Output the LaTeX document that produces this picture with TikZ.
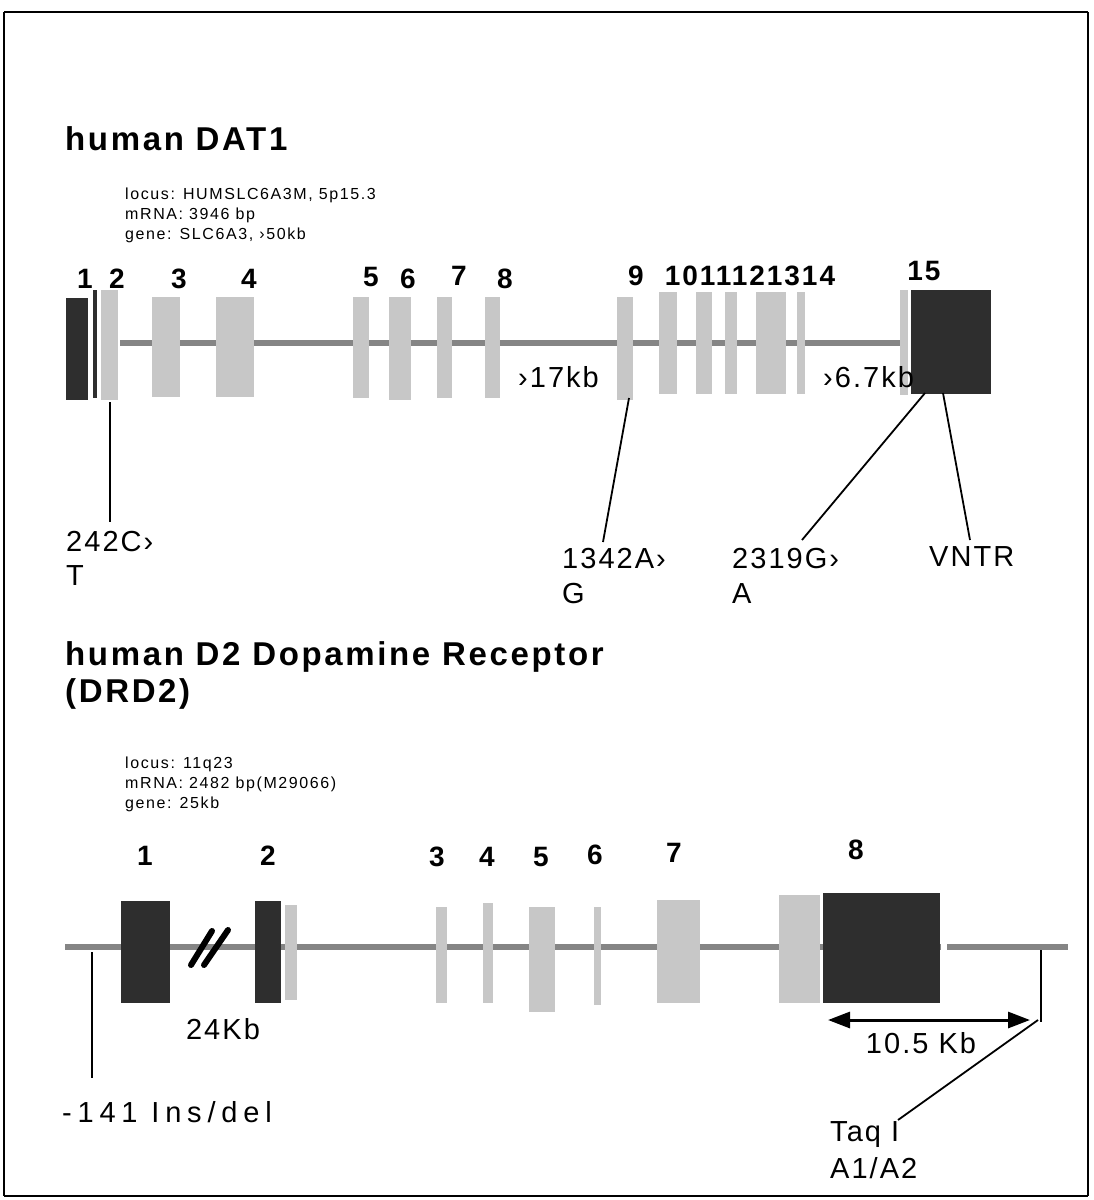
\documentclass[tikz,border=0pt]{standalone}
\usepackage{fontspec}
\setmainfont{Liberation Sans}[LetterSpace=7]
\usetikzlibrary{arrows.meta}
\begin{document}
\begin{tikzpicture}[x=1pt,y=-1pt,
  dark/.style={fill=black!82},
  light/.style={fill=black!22},
  intron/.style={draw=black!48, line width=6pt},
  lab/.style={inner sep=0pt, anchor=west, font=\fontsize{29}{33}\selectfont},
  num/.style={inner sep=0pt, font=\fontsize{28}{32}\selectfont\bfseries},
  ttl/.style={inner sep=0pt, anchor=west, font=\fontsize{33}{38}\selectfont\bfseries\addfontfeature{LetterSpace=8}},
  info/.style={inner sep=0pt, anchor=west, font=\fontsize{16}{19}\selectfont\addfontfeature{LetterSpace=10}},
  pin/.style={line width=1.8pt},
  frame/.style={line width=2.5pt}]
\useasboundingbox (0,0) rectangle (1093,1200);
\fill[white] (0,0) rectangle (1093,1200);
% frame
\draw[frame] (4,12) -- (1088,12);
\draw[line width=1.5pt] (4,12) -- (4,1196);
\draw[line width=2pt] (1088,12) -- (1088,1196);
\draw[frame] (4,1196) -- (1088,1196);

% ---------------- human DAT1 ----------------
\node[ttl] (t1) at (65,139) {human DAT1};
\node[info] (i1a) at (125,195) {locus: HUMSLC6A3M, 5p15.3};
\node[info] (i1b) at (125,215) {mRNA: 3946 bp};
\node[info] (i1c) at (125,235) {gene: SLC6A3, ›50kb};

\draw[intron] (120,343) -- (900,343);
\fill[dark] (66,298) rectangle (88,400);
\fill[dark] (93,290) rectangle (97,398);
\fill[light] (101,290) rectangle (118,400);
\fill[light] (152,297) rectangle (180,397);
\fill[light] (216,297) rectangle (254,397);
\fill[light] (353,297) rectangle (369,398);
\fill[light] (389,297) rectangle (411,400);
\fill[light] (437,297) rectangle (452,398);
\fill[light] (485,297) rectangle (500,398);
\fill[light] (617,297) rectangle (633,400);
\fill[light] (659,292) rectangle (677,394);
\fill[light] (696,292) rectangle (712,394);
\fill[light] (725,292) rectangle (737,394);
\fill[light] (756,292) rectangle (786,394);
\fill[light] (797,292) rectangle (805,394);
\fill[light] (900,290) rectangle (908,395);
\fill[dark] (911,290) rectangle (991,394);

\node[num] (n1) at (85,279) {1};
\node[num] (n2) at (117,279) {2};
\node[num] (n3) at (179,279) {3};
\node[num] (n4) at (249,279) {4};
\node[num] (n5) at (371,277) {5};
\node[num] (n6) at (408,279) {6};
\node[num] (n7) at (459,276) {7};
\node[num] (n8) at (505,279) {8};
\node[num] (n9) at (636,276) {9};
\node[num] (n10) at (750,276) {1011121314};
\node[num] (n15) at (924,271) {15};

\node[lab] (k17) at (518,377) {›17kb};
\node[lab] (k67) at (823,377) {›6.7kb};

\coordinate (p242) at (110,402);
\coordinate (q242) at (110,522);
\node[lab] (l242) at (66,542) {242C›};
\node[lab] (l242b) at (66,576) {T};
\draw[pin] (p242) -- (q242);

\coordinate (p1342) at (629,398);
\coordinate (q1342) at (603,542);
\node[lab] (l1342) at (562,559) {1342A›};
\node[lab] (l1342b) at (562,594) {G};
\draw[pin] (p1342) -- (q1342);

\coordinate (p2319) at (925,393);
\coordinate (q2319) at (802,540);
\node[lab] (l2319) at (732,559) {2319G›};
\node[lab] (l2319b) at (732,594) {A};
\draw[pin] (p2319) -- (q2319);

\coordinate (pv) at (943,393);
\coordinate (qv) at (970,540);
\node[lab] (lv) at (929,557) {VNTR};
\draw[pin] (pv) -- (qv);

% ---------------- DRD2 ----------------
\node[ttl] (t2) at (65,657) {human D2 Dopamine Receptor};
\node[ttl] (t2b) at (65,694) {(DRD2)};
\node[info] (i2a) at (125,764) {locus: 11q23};
\node[info] (i2b) at (125,784) {mRNA: 2482 bp(M29066)};
\node[info] (i2c) at (125,804) {gene: 25kb};

\draw[intron] (65,947) -- (1068,947);
\fill[white] (941,935) rectangle (947,960);
\fill[dark] (121,901) rectangle (170,1003);
\fill[dark] (255,901) rectangle (281,1003);
\fill[light] (285,905) rectangle (297,1000);
\fill[light] (436,907) rectangle (447,1003);
\fill[light] (483,903) rectangle (493,1003);
\fill[light] (529,907) rectangle (555,1012);
\fill[light] (594,907) rectangle (601,1005);
\fill[light] (657,900) rectangle (700,1003);
\fill[light] (779,895) rectangle (820,1003);
\fill[dark] (823,893) rectangle (940,1003);

\draw[line width=6pt, line cap=round] (191,965) -- (212,931);
\draw[line width=6pt, line cap=round] (204,965) -- (228,930);

\node[num] (m1) at (145,856) {1};
\node[num] (m2) at (268,856) {2};
\node[num] (m3) at (437,857) {3};
\node[num] (m4) at (487,857) {4};
\node[num] (m5) at (541,857) {5};
\node[num] (m6) at (595,855) {6};
\node[num] (m7) at (674,853) {7};
\node[num] (m8) at (856,850) {8};

\node[lab, anchor=center] (k24) at (223,1029) {24Kb};

\coordinate (p141) at (92,952);
\coordinate (q141) at (92,1078);
\draw[pin] (p141) -- (q141);
\node[lab, font=\fontsize{29}{33}\selectfont\addfontfeature{LetterSpace=20}] (l141) at (62,1112) {-141 Ins/del};

\coordinate (a1) at (828,1020);
\coordinate (a2) at (1030,1020);
\draw[line width=3pt, {Triangle[length=22pt,width=16pt]}-{Triangle[length=22pt,width=16pt]}] (a1) -- (a2);
\node[lab, anchor=center] (k105) at (921,1043) {10.5 Kb};

\coordinate (pt) at (1041,950);
\coordinate (qt) at (1041,1022);
\coordinate (rt) at (898,1120);
\draw[pin] (pt) -- (qt);
\draw[pin] (1038,1020) -- (rt);
\node[lab] (ltaq) at (830,1135) {Taq I};
\node[lab] (ltaqb) at (830,1168) {A1/A2};
\end{tikzpicture}
\end{document}
